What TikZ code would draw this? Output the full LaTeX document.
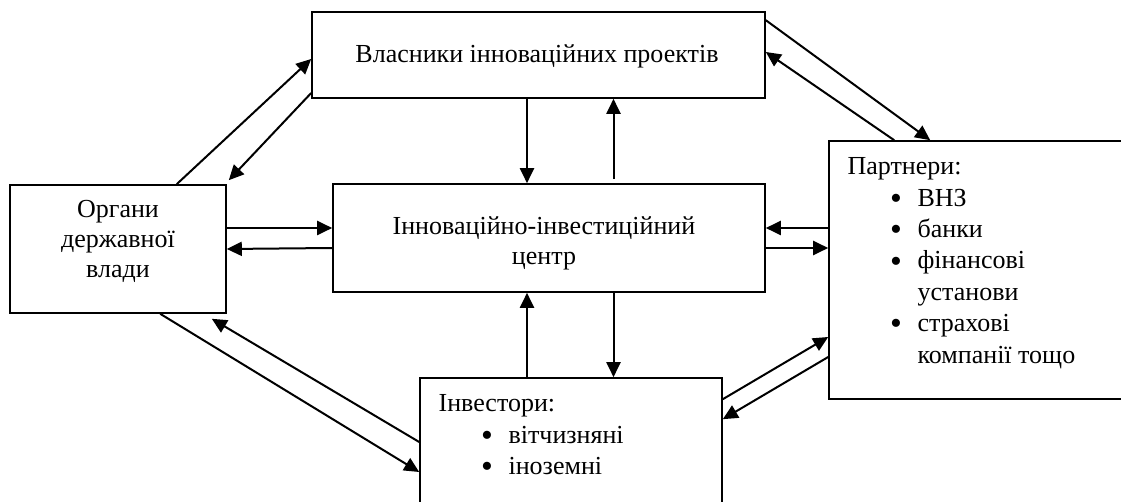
\documentclass[tikz,border=0pt]{standalone}
\usepackage{fontspec}
\usepackage{graphicx}
\setmainfont{Liberation Serif}
\usetikzlibrary{arrows.meta,calc}
\tikzset{
  box/.style={draw, line width=0.8pt, inner sep=0pt},
  txt/.style={inner sep=0pt, font=\fontsize{13}{15}\selectfont},
  lst/.style={txt, align=left, anchor=north west, font=\fontsize{13}{15.7}\selectfont},
  arr/.style={->, line width=1pt}
}
\newcommand{\bul}[1]{\hspace*{21.3pt}\makebox[13.7pt][l]{\smash{\raisebox{-1.6pt}{\scalebox{1.3}{\textbullet}}}}#1}
\newcommand{\cnt}[1]{\hspace*{35pt}#1}

\begin{document}
\begin{tikzpicture}[x=0.5pt, y=-0.5pt, >={Triangle[length=7.5pt,width=7pt]}]
        \useasboundingbox (0,0) rectangle (1121,502);
        \node[box, minimum width=226.5pt, minimum height=43pt] (vl) at (538.5,55) {};
        \node[box, minimum width=108pt, minimum height=64pt] (org) at (118,249) {};
        \node[box, minimum width=216pt, minimum height=54pt] (ctr) at (549,238) {};
        \node[box, minimum width=155.5pt, minimum height=129pt] (part) at (984.5,270) {};
        \node[box, minimum width=151pt, minimum height=71pt] (inv) at (571,449) {};
        \node[txt, anchor=base] (vltxt) at ($(vl.north)+(-1.5,51)$) {Власники інноваційних проектів};
        \node[txt, align=center, anchor=north] (orgtxt) at ($(org.north)+(0,15.5)$) {Органи\\державної\\влади};
        \node[txt, align=center, anchor=north] (ctrtxt) at ($(ctr.north)+(-5,33)$) {Інноваційно-інвестиційний\\центр};
        \node[lst] (parttxt) at ($(part.north west)+(19,17)$) {Партнери:\\\bul{ВНЗ}\\\bul{банки}\\\bul{фінансові}\\\cnt{установи}\\\bul{страхові}\\\cnt{компанії тощо}};
        \node[lst] (invtxt) at ($(inv.north west)+(19,17)$) {Інвестори:\\\bul{вітчизняні}\\\bul{іноземні}};
        \draw[arr] ($(org.north west)+(167.5,0)$) -- ($(vl.west)+(0,4)$);
        \draw[arr] ($(vl.west)+(0,38)$) -- ($(org.north east)+(2,-4)$);
        \draw[arr] ($(vl.south)+(-11.5,0)$) -- ($(ctr.north)+(-22,0)$);
        \draw[arr] ($(ctr.north)+(64.5,-4)$) -- ($(vl.south)+(75,0)$);
        \draw[arr] ($(org.east)+(0,-21)$) -- ($(ctr.west)+(0,-10)$);
        \draw[arr] ($(ctr.west)+(0,10)$) -- (org.east);
        \draw[arr] ($(part.west)+(0,-42)$) -- ($(ctr.east)+(0,-10)$);
        \draw[arr] ($(ctr.east)+(0,10)$) -- ($(part.west)+(0,-22)$);
        \draw[arr] ($(vl.north east)+(0,9)$) -- ($(part.north west)+(102,0)$);
        \draw[arr] ($(part.north west)+(66,0)$) -- ($(vl.east)+(0,-3)$);
        \draw[arr] ($(ctr.south)+(64.5,0)$) -- ($(inv.north)+(42.5,0)$);
        \draw[arr] ($(inv.north)+(-44,0)$) -- ($(ctr.south)+(-22,0)$);
        \draw[arr] ($(org.south west)+(151,0)$) -- ($(inv.west)+(0,23)$);
        \draw[arr] ($(inv.west)+(0,-7)$) -- ($(org.south east)+(-15,5)$);
        \draw[arr] ($(inv.north east)+(0,22)$) -- ($(part.west)+(0,67)$);
        \draw[arr] ($(part.west)+(0,87)$) -- ($(inv.north east)+(0,42)$);
\end{tikzpicture}
\end{document}
